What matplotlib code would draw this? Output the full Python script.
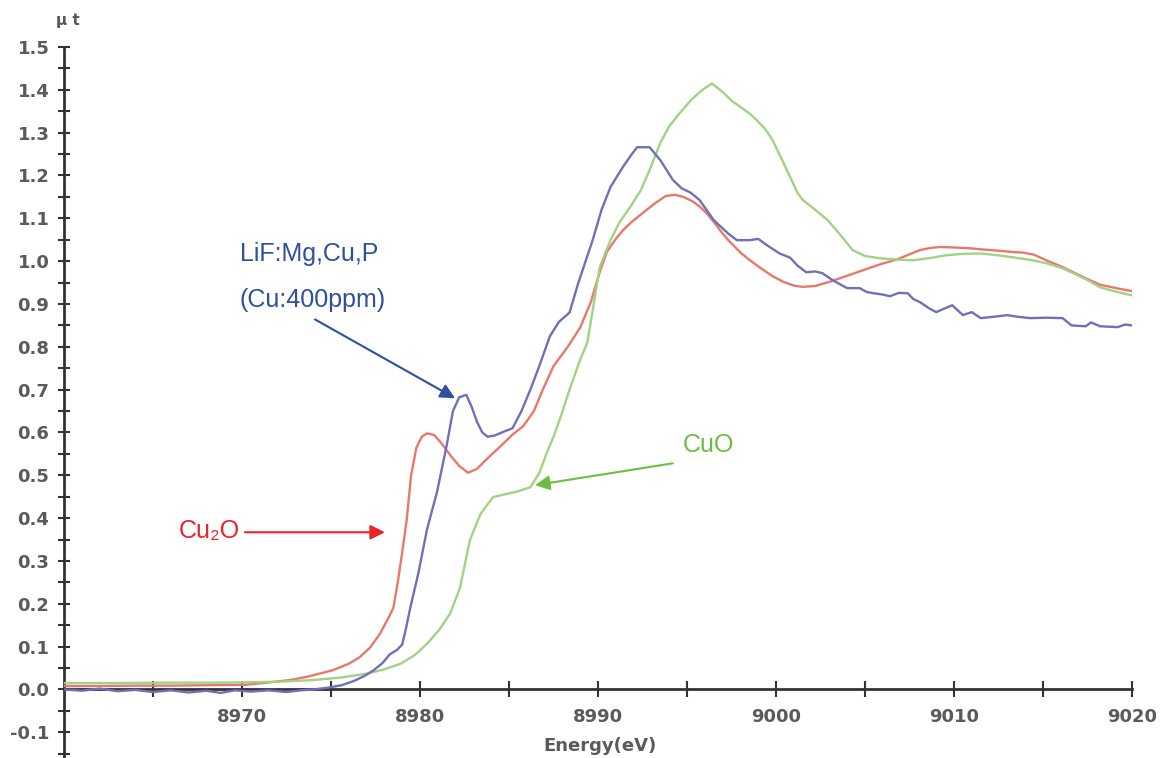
import numpy as np
import matplotlib
matplotlib.use('Agg')
import matplotlib.pyplot as plt

# Cu K-edge XANES: LiF:Mg,Cu,P vs Cu2O / CuO references
e_cu2o = [8960.0, 8962.0, 8964.0, 8966.0, 8968.0, 8970.2, 8971.4, 8972.7, 8973.7, 8975.1,
          8976.0, 8976.6, 8977.2, 8977.75, 8978.2, 8978.5, 8978.75, 8979.0, 8979.25, 8979.5,
          8979.8, 8980.1, 8980.4, 8980.8, 8981.2, 8981.7, 8982.2, 8982.7, 8983.2, 8983.8,
          8984.5, 8985.2, 8985.8, 8986.4, 8986.9, 8987.5, 8988.3, 8989.0, 8989.6, 8990.1,
          8990.5, 8991.0, 8991.4, 8991.9, 8992.5, 8993.2, 8993.8, 8994.3, 8994.8, 8995.3,
          8995.7, 8996.1, 8996.5, 8996.9, 8997.3, 8997.7, 8998.0, 8998.6, 8999.2, 8999.8,
          9000.4, 9001.0, 9001.5, 9002.2, 9003.1, 9004.0, 9004.9, 9005.8, 9006.8, 9007.5,
          9008.1, 9008.7, 9009.2, 9010.0, 9010.9, 9011.7, 9012.6, 9013.4, 9013.9, 9014.5,
          9015.3, 9016.0, 9016.7, 9017.4, 9018.2, 9019.0, 9019.6, 9020.0]
mu_cu2o = [0.008, 0.008, 0.009, 0.009, 0.010, 0.011, 0.016, 0.022, 0.030, 0.045,
           0.060, 0.075, 0.098, 0.130, 0.165, 0.190, 0.250, 0.320, 0.395, 0.500,
           0.565, 0.590, 0.598, 0.594, 0.575, 0.547, 0.522, 0.506, 0.515, 0.540,
           0.567, 0.595, 0.615, 0.650, 0.700, 0.755, 0.800, 0.845, 0.905, 0.975,
           1.022, 1.052, 1.072, 1.092, 1.112, 1.135, 1.152, 1.155, 1.150, 1.140,
           1.128, 1.112, 1.092, 1.070, 1.050, 1.033, 1.020, 1.000, 0.982, 0.965,
           0.952, 0.943, 0.940, 0.942, 0.953, 0.966, 0.979, 0.992, 1.004, 1.016,
           1.026, 1.031, 1.033, 1.032, 1.030, 1.027, 1.024, 1.021, 1.020, 1.015,
           1.000, 0.988, 0.974, 0.960, 0.945, 0.938, 0.933, 0.930]

e_cuo = [8960.0, 8963.0, 8966.0, 8969.0, 8972.0, 8974.0, 8975.6, 8977.0, 8978.0, 8978.9,
         8979.7, 8980.4, 8981.1, 8981.7, 8982.25, 8982.8, 8983.4, 8984.1, 8984.8, 8985.45,
         8986.2, 8986.7, 8987.1, 8987.5, 8987.9, 8988.4, 8989.0, 8989.4, 8989.8, 8990.1,
         8990.7, 8991.2, 8991.8, 8992.4, 8992.9, 8993.5, 8994.0, 8994.6, 8995.2, 8995.8,
         8996.4, 8997.0, 8997.5, 8998.0, 8998.5, 8998.9, 8999.4, 8999.8, 9000.3, 9000.8,
         9001.2, 9001.5, 9002.2, 9002.9, 9003.6, 9004.3, 9005.0, 9005.8, 9006.7, 9007.7,
         9008.6, 9009.6, 9010.5, 9011.5, 9012.4, 9013.3, 9014.3, 9015.2, 9016.0, 9016.7,
         9017.5, 9018.2, 9019.0, 9019.6, 9020.0]
mu_cuo = [0.015, 0.015, 0.016, 0.016, 0.018, 0.022, 0.028, 0.037, 0.047, 0.060,
          0.080, 0.107, 0.140, 0.178, 0.238, 0.348, 0.410, 0.449, 0.456, 0.462,
          0.472, 0.505, 0.550, 0.590, 0.636, 0.700, 0.770, 0.810, 0.910, 0.986,
          1.049, 1.090, 1.126, 1.165, 1.213, 1.276, 1.315, 1.346, 1.375, 1.398,
          1.415, 1.395, 1.375, 1.360, 1.345, 1.330, 1.308, 1.283, 1.240, 1.196,
          1.160, 1.143, 1.120, 1.096, 1.062, 1.026, 1.012, 1.007, 1.004, 1.002,
          1.007, 1.014, 1.017, 1.018, 1.014, 1.009, 1.003, 0.995, 0.985, 0.972,
          0.956, 0.939, 0.930, 0.924, 0.920]

e_lif = [8960.0, 8961.0, 8962.0, 8963.0, 8964.0, 8965.0, 8966.0, 8967.0, 8968.0, 8968.8,
         8969.6, 8970.5, 8971.5, 8972.5, 8973.3, 8974.0, 8974.8, 8975.6, 8976.3, 8976.9,
         8977.4, 8977.9, 8978.3, 8978.7, 8979.0, 8979.2, 8979.45, 8979.9, 8980.4, 8980.95,
         8981.5, 8981.85, 8982.2, 8982.6, 8982.9, 8983.2, 8983.5, 8983.8, 8984.2, 8984.6,
         8985.2, 8985.7, 8986.2, 8986.7, 8987.3, 8987.8, 8988.4, 8988.9, 8989.7, 8990.2,
         8990.7, 8991.4, 8991.9, 8992.2, 8992.9, 8993.5, 8994.2, 8994.7, 8995.2, 8995.7,
         8996.5, 8997.3, 8997.8, 8998.5, 8999.0, 8999.5, 9000.2, 9000.8, 9001.2, 9001.7,
         9002.2, 9002.6, 9003.2, 9004.0, 9004.7, 9005.1, 9005.5, 9006.0, 9006.4, 9006.9,
         9007.4, 9007.7, 9008.1, 9008.6, 9009.0, 9009.5, 9009.9, 9010.5, 9011.0, 9011.5,
         9012.2, 9013.0, 9013.6, 9014.3, 9015.2, 9016.1, 9016.6, 9017.4, 9017.7, 9018.2,
         9018.7, 9019.2, 9019.6, 9020.0]
mu_lif = [0.000, -0.003, 0.002, -0.004, -0.001, -0.006, -0.002, -0.007, -0.003, -0.008,
          -0.002, -0.005, -0.002, -0.006, -0.002, 0.000, 0.004, 0.010, 0.020, 0.032,
          0.045, 0.062, 0.082, 0.092, 0.105, 0.140, 0.190, 0.270, 0.375, 0.460,
          0.570, 0.650, 0.682, 0.688, 0.660, 0.625, 0.600, 0.590, 0.593, 0.600,
          0.610, 0.650, 0.700, 0.755, 0.825, 0.858, 0.880, 0.950, 1.049, 1.120,
          1.173, 1.220, 1.250, 1.266, 1.266, 1.236, 1.190, 1.170, 1.160, 1.143,
          1.096, 1.065, 1.049, 1.049, 1.052, 1.037, 1.018, 1.008, 0.990, 0.974,
          0.976, 0.972, 0.955, 0.937, 0.937, 0.928, 0.925, 0.922, 0.918, 0.926,
          0.925, 0.912, 0.904, 0.890, 0.881, 0.890, 0.897, 0.874, 0.881, 0.867,
          0.870, 0.874, 0.870, 0.867, 0.868, 0.867, 0.850, 0.848, 0.857, 0.848,
          0.847, 0.846, 0.852, 0.850]

x_major = [8970, 8980, 8990, 9000, 9010, 9020]
x_minor = [8965, 8975, 8985, 8995, 9005, 9015]
y_major = [-0.1, 0.0, 0.1, 0.2, 0.3, 0.4, 0.5, 0.6, 0.7, 0.8, 0.9, 1.0, 1.1, 1.2, 1.3, 1.4, 1.5]

fig = plt.figure(figsize=(11.65, 7.58), dpi=100)
ax = fig.add_axes([64/1165, 0.0, 1068/1165, 711/758])

ax.plot(e_cu2o, mu_cu2o, color='#e8786c', lw=1.7)
ax.plot(e_cuo, mu_cuo, color='#a2d283', lw=1.7)
ax.plot(e_lif, mu_lif, color='#7070b8', lw=1.7)

ax.set_xlim(8960, 9020)
ax.set_ylim(-0.16, 1.5)

for s in ['top', 'right']:
    ax.spines[s].set_visible(False)
ax.spines['bottom'].set_position(('data', 0))
for s in ['left', 'bottom']:
    ax.spines[s].set_color('#333333')
    ax.spines[s].set_linewidth(2)
    ax.spines[s].set_zorder(1)

ax.set_xticks(x_major)
ax.set_xticks(x_minor, minor=True)
ax.set_yticks(y_major)
ax.set_yticks([v + 0.05 for v in y_major[:-1]] + [-0.15], minor=True)
ax.set_yticklabels([f'{v:.1f}' for v in y_major])
ax.set_xticklabels([str(v) for v in x_major])

ax.tick_params(axis='x', which='both', direction='inout', length=11, width=1.5,
               color='#333333', pad=7.5)
ax.tick_params(axis='y', which='both', direction='inout', length=8, width=1.5,
               color='#333333', pad=6.5)
for lab in ax.get_xticklabels():
    lab.set_fontsize(13)
    lab.set_fontweight('bold')
    lab.set_color('#5a5a5a')
for lab in ax.get_yticklabels():
    lab.set_fontsize(13)
    lab.set_fontweight('bold')
    lab.set_color('#5a5a5a')

fig.text(68/1165, 1 - 21/758, 'μ t', ha='center', va='center', fontsize=11,
         fontweight='bold', color='#5a5a5a')
fig.text(600/1165, 1 - 746/758, 'Energy(eV)', ha='center', va='center', fontsize=13,
         fontweight='bold', color='#5a5a5a')

fam = ['Liberation Sans', 'DejaVu Sans']
blue_t = '#2f4f9f'
red_t = '#e8232a'
green_t = '#6cbd45'

ax.text(8973.76, 1.016, 'LiF:Mg,Cu,P', color=blue_t, fontsize=18, family=fam,
        ha='center', va='center')
ax.text(8973.99, 0.909, '(Cu:400ppm)', color=blue_t, fontsize=18, family=fam,
        ha='center', va='center')
ax.annotate('', xy=(8981.97, 0.680), xytext=(8974.1, 0.864),
            arrowprops=dict(arrowstyle='-|>', color=blue_t, lw=1.5,
                            mutation_scale=22, shrinkA=0, shrinkB=0))

ax.text(8968.15, 0.371, 'Cu₂O', color=red_t, fontsize=18, family=fam,
        ha='center', va='center')
ax.annotate('', xy=(8978.03, 0.367), xytext=(8970.17, 0.367),
            arrowprops=dict(arrowstyle='-|>', color=red_t, lw=1.5,
                            mutation_scale=22, shrinkA=0, shrinkB=0))

ax.text(8996.18, 0.570, 'CuO', color=green_t, fontsize=18, family=fam,
        ha='center', va='center')
ax.annotate('', xy=(8986.46, 0.477), xytext=(8994.2, 0.528),
            arrowprops=dict(arrowstyle='-|>', color=green_t, lw=1.5,
                            mutation_scale=22, shrinkA=0, shrinkB=0))

plt.savefig('out.png', dpi=100)
